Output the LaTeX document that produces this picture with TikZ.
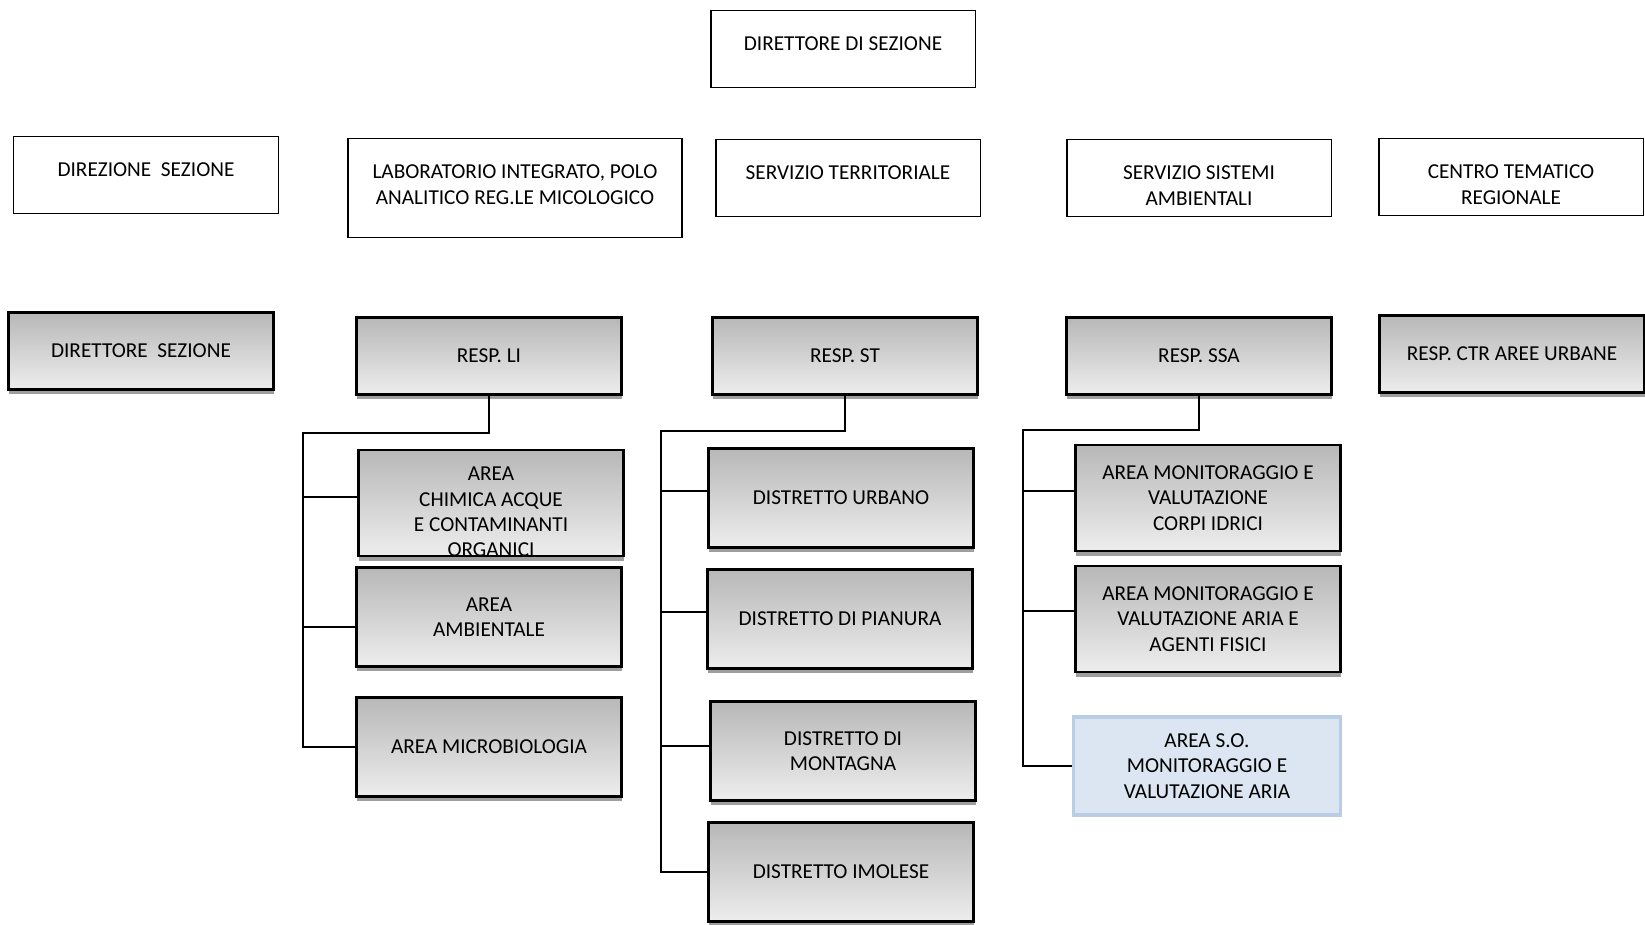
\documentclass[tikz,border=0pt]{standalone}
\usepackage{fontspec}
\setmainfont{Carlito}
\usetikzlibrary{positioning, shadows, calc}
\definecolor{grtop}{gray}{0.72}
\definecolor{grbot}{gray}{0.93}
\definecolor{soFill}{HTML}{DCE6F2}
\definecolor{soLine}{HTML}{B9CDE5}

\begin{document}
\begin{tikzpicture}[x=0.02cm, y=-0.02cm,
    boxfont/.style={font=\fontsize{12.1}{14.5}\selectfont},
    plainbox/.style={draw, line width=1.1pt, fill=white, minimum width=5.3cm, minimum height=1.54cm, align=center, inner sep=2pt, boxfont},
    boxtext/.style={anchor=north, yshift=-0.54cm, inner sep=0pt, align=center, boxfont},
    respbox/.style={plainbox, line width=1.4pt, top color=grtop, bottom color=grbot, drop shadow={shadow xshift=0.4pt, shadow yshift=-2.8pt, fill=black!38, opacity=1}},
    areabox/.style={respbox, minimum height=1.98cm},
    sobox/.style={plainbox, draw=soLine, line width=2.2pt, fill=soFill, minimum width=5.34cm, minimum height=1.96cm},
    link/.style={line width=1.1pt}
]
\useasboundingbox (0,0) rectangle (1645,924);

% Vertice
\node[plainbox, label={[boxtext]north:DIRETTORE DI SEZIONE}] (dir) at (843,49) {};

% Strutture
\node[plainbox, label={[boxtext]north:DIREZIONE\ \ SEZIONE}] (direz) at (146,175) {};
\node[plainbox, minimum width=6.68cm, minimum height=1.98cm, label={[boxtext]north:LABORATORIO INTEGRATO, POLO\\ANALITICO REG.LE MICOLOGICO}] (lab) at (515,188) {};
\node[plainbox, label={[boxtext]north:SERVIZIO TERRITORIALE}] (st) at (848,178) {};
\node[plainbox, label={[boxtext]north:SERVIZIO SISTEMI\\AMBIENTALI}] (ssa) at (1199,178) {};
\node[plainbox, label={[boxtext]north:CENTRO TEMATICO\\REGIONALE}] (ctr) at (1511,177) {};

% Responsabili
\node[respbox] (dirsez) at (141,351) {DIRETTORE\ \ SEZIONE};
\node[respbox] (li) at (489,356) {RESP. LI};
\node[respbox] (rst) at (845,356) {RESP. ST};
\node[respbox] (rssa) at (1199,356) {RESP. SSA};
\node[respbox] (rctr) at (1512,354) {RESP. CTR AREE URBANE};

% Aree LI
\node[areabox, minimum height=2.12cm, label={[boxfont, align=center, yshift=-0.18cm]center:AREA\\CHIMICA ACQUE\\E CONTAMINANTI\\ORGANICI}] (chim) at (491,503) {};
\node[areabox] (amb) at (489,617) {AREA\\AMBIENTALE};
\node[areabox] (micro) at (489,747) {AREA MICROBIOLOGIA};

% Distretti ST
\node[areabox] (urb) at (841,498) {DISTRETTO URBANO};
\node[areabox] (pian) at (840,619) {DISTRETTO DI PIANURA};
\node[areabox] (mont) at (843,751) {DISTRETTO DI\\MONTAGNA};
\node[areabox] (imol) at (841,872) {DISTRETTO IMOLESE};

% Aree SSA
\node[areabox, minimum height=2.12cm] (idr) at (1208,498) {AREA MONITORAGGIO E\\VALUTAZIONE\\CORPI IDRICI};
\node[areabox, minimum height=2.12cm] (aria) at (1208,619) {AREA MONITORAGGIO E\\VALUTAZIONE ARIA E\\AGENTI FISICI};
\node[sobox] (so) at (1207,766) {AREA S.O.\\MONITORAGGIO E\\VALUTAZIONE ARIA};

% Collegamenti
\coordinate (liL) at (303,433);
\coordinate (stL) at (661,431);
\coordinate (ssaL) at (1023,430);

\draw[link] (li.south) |- (liL) |- (micro.west);
\foreach \n/\dy in {chim/0.115cm, amb/-0.2cm}
    \draw[link] ([yshift=\dy]\n.west) -| (liL);

\draw[link] (rst.south) |- (stL) |- (imol.west);
\foreach \n/\dy in {urb/0.147cm, pian/0.147cm, mont/0.094cm}
    \draw[link] ([yshift=\dy]\n.west) -| (stL);

\draw[link] (rssa.south) |- (ssaL) |- (so.west);
\foreach \n/\dy in {idr/0.147cm, aria/0.157cm}
    \draw[link] ([yshift=\dy]\n.west) -| (ssaL);

\end{tikzpicture}
\end{document}
